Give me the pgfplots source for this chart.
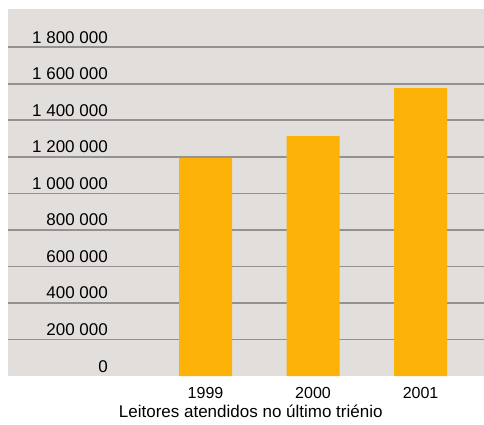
\documentclass[border=0pt]{standalone}
\usepackage{fontspec}
\setmainfont{Liberation Sans}
\usepackage{pgfplots}
\pgfplotsset{compat=1.18}
\definecolor{bg}{RGB}{226,222,220}
\definecolor{gridc}{RGB}{150,145,142}
\definecolor{barc}{RGB}{253,178,8}
\begin{document}
\begin{tikzpicture}[x=1pt,y=1pt]
\useasboundingbox (-8pt,-48pt) rectangle (476pt,376pt);
\begin{axis}[
  at={(0,0)}, anchor=south west,
  scale only axis, width=476pt, height=367pt,
  xmin=-1.837, xmax=2.59, ymin=0, ymax=2010000,
  axis background/.style={fill=bg},
  axis line style={draw=none},
  major tick length=0pt,
  ytick={200000,400000,600000,800000,1000000,1200000,1400000,1600000,1800000},
  yticklabels={200 000,400 000,600 000,800 000,1 000 000,1 200 000,1 400 000,1 600 000,1 800 000},
  extra y ticks={0}, extra y tick labels={0},
  extra y tick style={grid=none},
  scaled y ticks=false,
  ymajorgrids, grid style={gridc, line width=1.8pt},
  yticklabel style={anchor=base east, inner sep=0pt, xshift=100pt, yshift=4pt, font=\fontsize{17}{17}\selectfont},
  xtick={0,1,2}, xticklabels={1999,2000,2001},
  xticklabel style={anchor=base, inner sep=0pt, yshift=-22pt, font=\fontsize{16}{16}\selectfont},
  xlabel={Leitores atendidos no último triénio},
  xlabel style={at={(rel axis cs:0.51,0)}, anchor=base, inner sep=0pt, yshift=-41pt, font=\fontsize{17}{17}\selectfont},
  ybar, bar width=53pt, bar shift=0pt,
]
\addplot[fill=barc, draw=none] coordinates {(0,1194000) (1,1314000) (2,1577000)};
\end{axis}
\end{tikzpicture}
\end{document}
